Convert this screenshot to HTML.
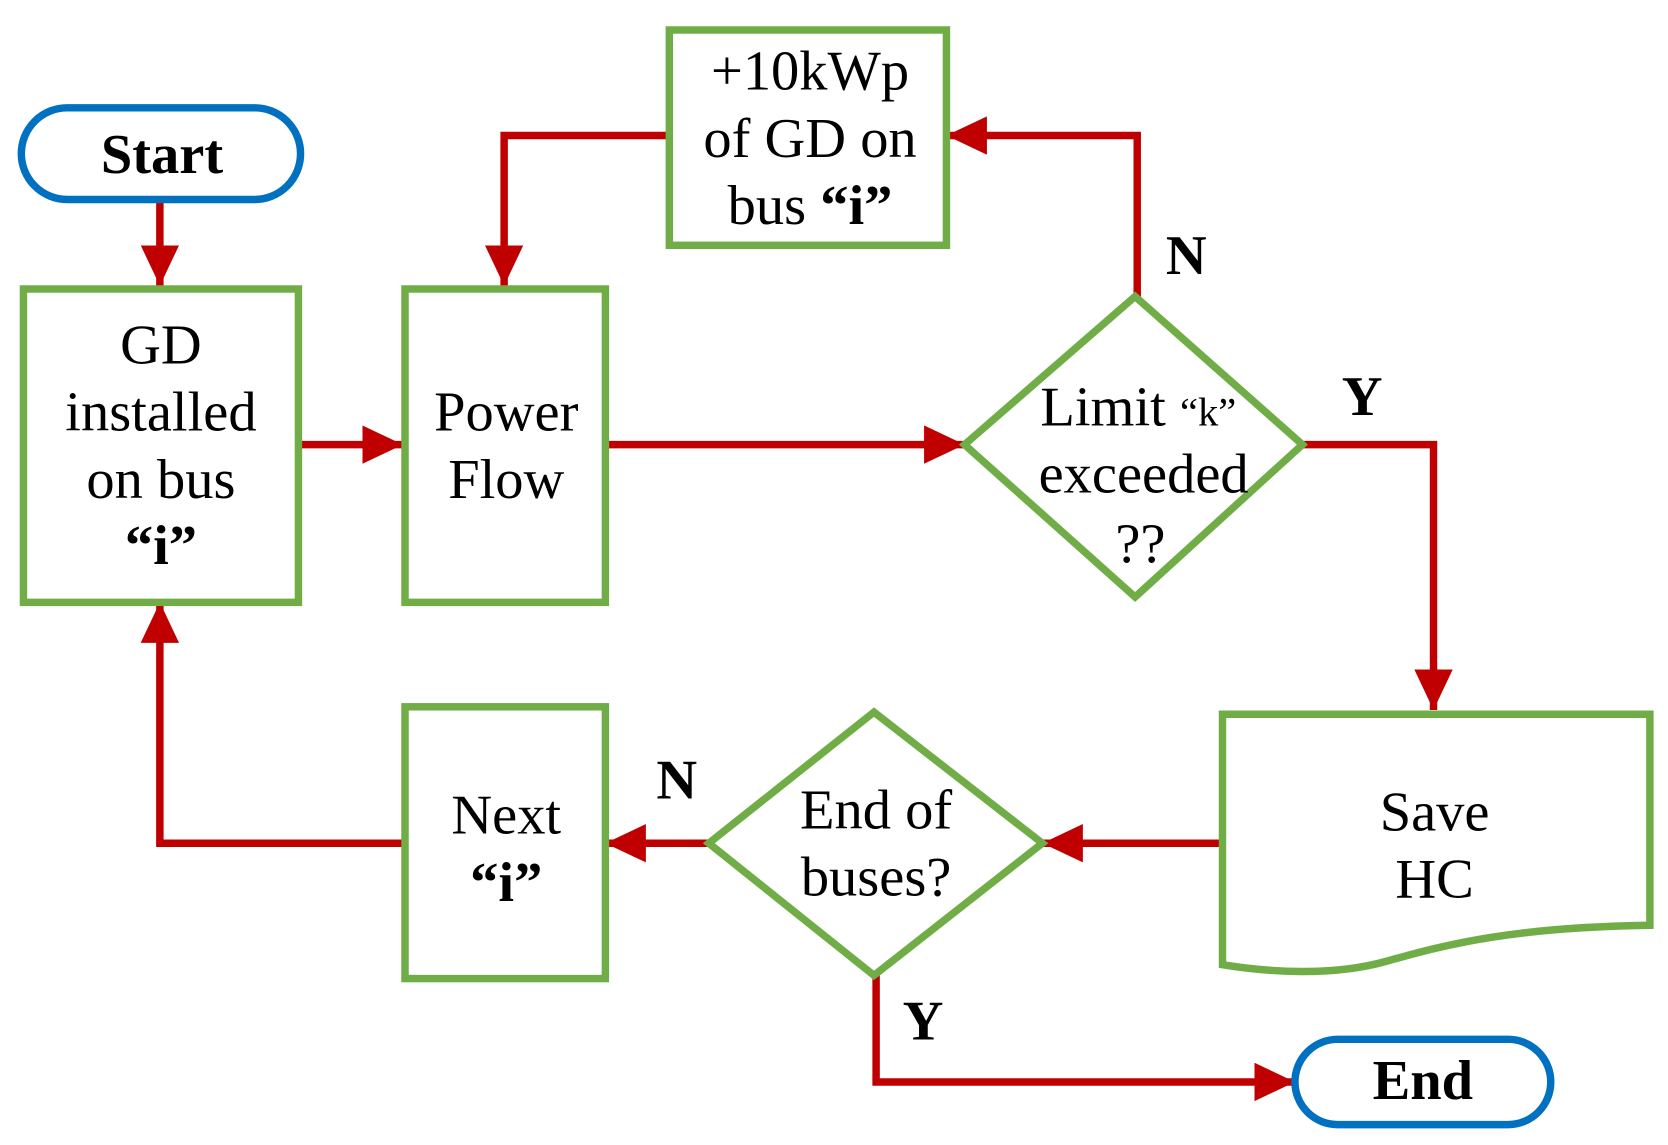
<!DOCTYPE html>
<html><head><style>html,body{margin:0;padding:0;background:#fff}svg{display:block}</style></head>
<body>
<svg width="1668" height="1145" viewBox="0 0 1565 1074" xmlns="http://www.w3.org/2000/svg" font-family="Liberation Serif, serif" font-size="53" text-anchor="middle">
<defs><marker id="a" markerUnits="userSpaceOnUse" markerWidth="40" markerHeight="40" refX="38" refY="20" orient="auto"><path d="M0,2 L38,20 L0,38 Z" fill="#C00000"/></marker></defs>
<g fill="none" stroke="#C00000" stroke-width="7">
<path d="M150,188 V268" marker-end="url(#a)"/>
<path d="M283,417 H378" marker-end="url(#a)"/>
<path d="M568,417 H905" marker-end="url(#a)"/>
<path d="M1067,278 V127 H888" marker-end="url(#a)"/>
<path d="M628,127 H473 V268" marker-end="url(#a)"/>
<path d="M1222,417 H1345 V666" marker-end="url(#a)"/>
<path d="M1146,791 H978" marker-end="url(#a)"/>
<path d="M665,791 H568" marker-end="url(#a)"/>
<path d="M378,791 H150 V565" marker-end="url(#a)"/>
<path d="M822,915 V1015 H1215" marker-end="url(#a)"/>
</g>
<g fill="#fff" stroke="#70AD47" stroke-width="7">
<rect x="22" y="271" width="258" height="294"/>
<rect x="380" y="271" width="188" height="294"/>
<rect x="628" y="28" width="260" height="202"/>
<rect x="380" y="663" width="188" height="255"/>
<path d="M1065,278 L1222,417 L1065,560 L905,417 Z"/>
<path d="M820,668 L978,791 L820,915 L665,791 Z"/>
<path d="M1147,670 H1548 V868 C1420,870 1360,885 1300,902 C1250,916 1190,912 1147,905 Z"/>
</g>
<g fill="#fff" stroke="#0070C0" stroke-width="7">
<rect x="20" y="101" width="262" height="86" rx="43"/>
<rect x="1215" y="975" width="240" height="80" rx="40"/>
</g>
<g fill="#000">
<text x="152" y="162" font-weight="bold">Start</text>
<text x="1335" y="1031" font-weight="bold">End</text>
<text x="151" y="341">GD</text>
<text x="151" y="404">installed</text>
<text x="151" y="467">on bus</text>
<text x="151" y="529" font-weight="bold">“i”</text>
<text x="475" y="404">Power</text>
<text x="475" y="467">Flow</text>
<text x="760" y="84">+10kWp</text>
<text x="760" y="147">of GD on</text>
<text x="760" y="210">bus <tspan font-weight="bold">“i”</tspan></text>
<text x="1068" y="399">Limit <tspan font-size="38">“k”</tspan></text>
<text x="1073" y="462">exceeded</text>
<text x="1070" y="527">??</text>
<text x="1346" y="779">Save</text>
<text x="1346" y="842">HC</text>
<text x="822" y="777">End of</text>
<text x="822" y="840">buses?</text>
<text x="475" y="782">Next</text>
<text x="475" y="845" font-weight="bold">“i”</text>
<text x="1113" y="257" font-weight="bold">N</text>
<text x="1278" y="389" font-weight="bold">Y</text>
<text x="635" y="749" font-weight="bold">N</text>
<text x="866" y="975" font-weight="bold">Y</text>
</g>
</svg>
</body></html>
